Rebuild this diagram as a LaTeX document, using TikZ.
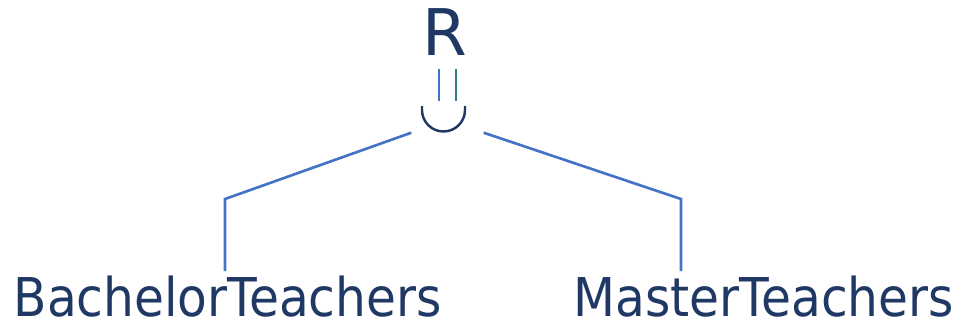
\documentclass[tikz,border=0pt]{standalone}
\usepackage{fontspec}
\setmainfont{DejaVu Sans}[FakeStretch=0.91]
\newfontfamily\relfont{DejaVu Sans}
\usetikzlibrary{calc}

\definecolor{navy}{HTML}{1F3864}
\definecolor{linkblue}{HTML}{4472C4}
\definecolor{linkteal}{HTML}{2E7D8C}

\tikzset{
  rel/.style={text=navy, inner sep=0pt, anchor=base west,
    font=\fontsize{15.2}{18}\selectfont},
  link/.style={linkblue, line width=0.75pt},
}

\begin{document}
\begin{tikzpicture}[x=0.01cm, y=-0.01cm]
    \useasboundingbox (0,0) rectangle (961,324);

    % result relation and the union operator
    \node [anchor=base, text=navy, inner sep=0pt,
    font=\relfont\fontsize{18.3}{22}\selectfont] (R) at (445,55) {R};

    \node [minimum width=0.71cm, minimum height=0.26cm, inner sep=0pt]
    (cup) at (447.5,119) {};

    \draw [navy, line width=0.7pt] (422,106) -- (422,110)
    arc [start angle=180, end angle=0, radius=21.5] -- (465,106);

    % assignment bars
    \draw [link] ($(R.south)+(-6,13)$) -- ($(R.south)+(-6,45)$);
    \draw [linkteal, line width=0.75pt] ($(R.south)+(11,13)$) -- ($(R.south)+(11,45)$);

    % operands
    \node [rel] (bachelor) at (13,316) {BachelorTeachers};
    \node [rel] (master) at (573,316) {MasterTeachers};

    \coordinate (lknee) at (225,199);
    \coordinate (rknee) at (681,199);

    \draw [link] (cup.south west) -- (lknee) -- ([yshift=1pt]lknee |- bachelor.north);
    \draw [link] (cup.south east) -- (rknee) -- ([yshift=1pt]rknee |- master.north);
\end{tikzpicture}
\end{document}
